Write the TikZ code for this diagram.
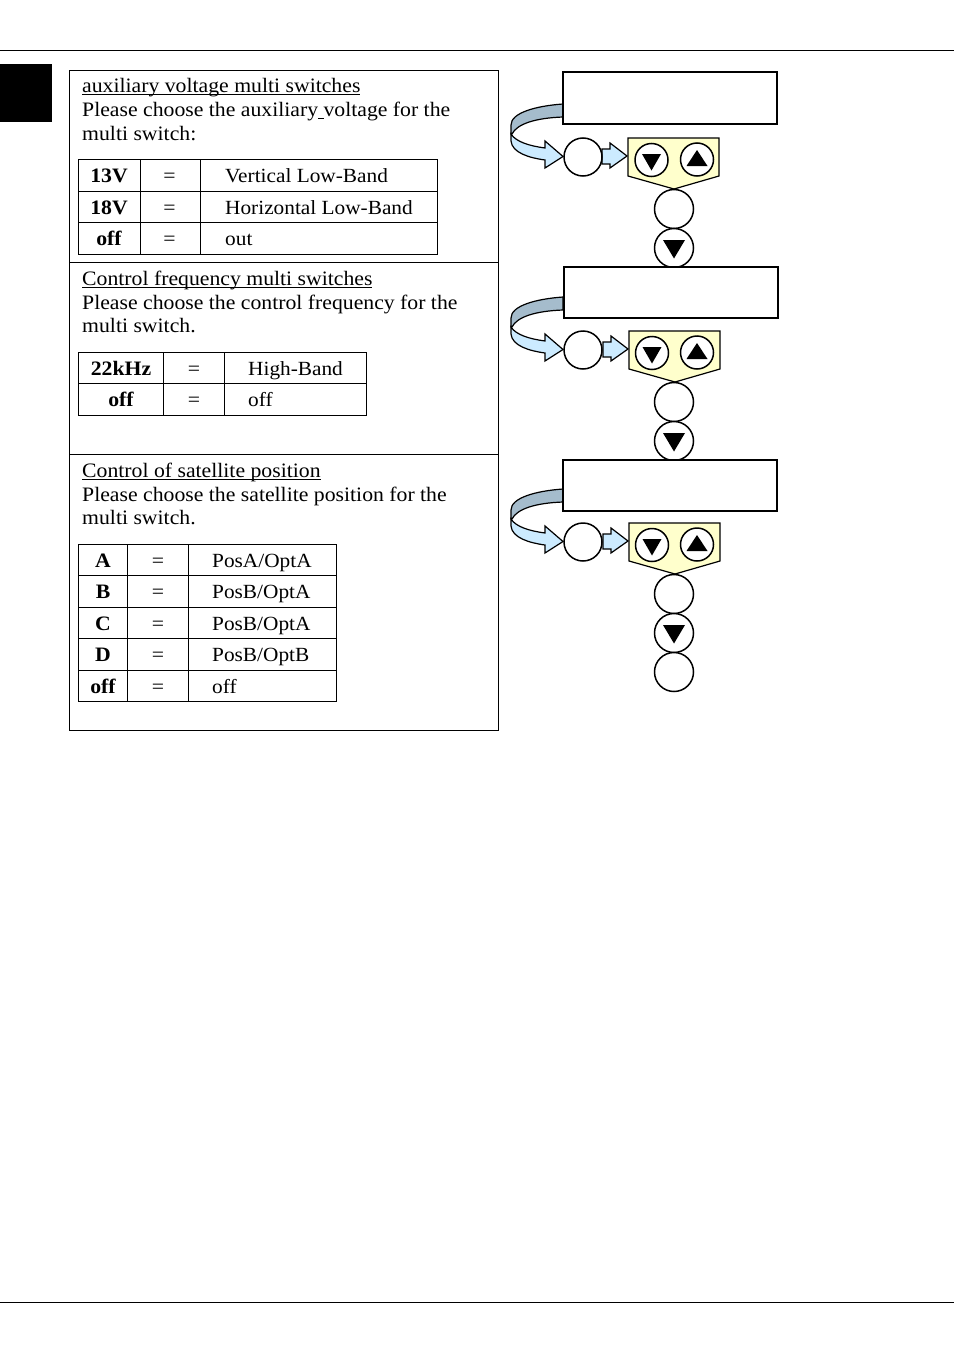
\documentclass[tikz,border=0pt]{standalone}
\usepackage{fontspec}
\setmainfont[FakeStretch=1.06]{Liberation Serif}
\definecolor{backband}{HTML}{A5BCCC}
\definecolor{frontband}{HTML}{CCEBFF}
\definecolor{keypad}{HTML}{FFFFCC}
\newlength\ulwidth
\newcommand{\ulin}[1]{\settowidth\ulwidth{#1}\rlap{\rule[-2.4pt]{\ulwidth}{0.9pt}}#1}
\tikzset{
  txt/.style={anchor=base west,inner sep=0pt,font=\fontsize{20.5}{24}\selectfont},
  txtb/.style={anchor=base west,inner sep=0pt,font=\fontsize{20.1}{24}\selectfont},
  cellb/.style={anchor=base,inner sep=0pt,font=\fontsize{20.5}{24}\selectfont\bfseries},
  cellc/.style={anchor=base,inner sep=0pt,font=\fontsize{20.5}{24}\selectfont},
  frame/.style={draw=black,line width=0.8pt},
  grid/.style={draw=black,line width=0.8pt},
  disp/.style={draw=black,line width=1.5pt,fill=white},
  btn/.style={draw=black,line width=1.5pt,fill=white},
  flow/.style={draw=black,line width=1.2pt,fill=frontband,line join=miter},
  tri/.style={fill=black},
}
% #1 x offset of keypad, #2 y offset of the control row, #3 display corners
\newcommand{\menuunit}[3]{%
  \begin{scope}[yshift=-#2pt]
    \filldraw[draw=black,line width=1.2pt,fill=backband]
      (563,104) .. controls (535,106) and (511,113) .. (511,125)
      -- (511,134) -- (512,134) .. controls (517,124) and (535,118) .. (563,117) -- cycle;
    \path[flow]
      (511,134) -- (511,141) .. controls (512,153) and (530,158) .. (545,160)
      -- (545,168) -- (563,156.5) -- (545,141) -- (545,148)
      .. controls (530,146) and (516,142) .. (511,134) -- cycle;
    \begin{scope}[xshift=#1pt]
      \path[flow] (602,149) -- (610,149) -- (610,143) -- (627,156) -- (610,168) -- (610,164) -- (602,164) -- cycle;
      \filldraw[draw=black,line width=1.2pt,fill=keypad]
        (628,138) -- (719,138) -- (719,176) -- (674,189) -- (628,176) -- cycle;
    \end{scope}
    \node[btn,circle,minimum size=38pt,inner sep=0pt] at (583,157) {};
    \node[btn,circle,minimum size=33pt,inner sep=0pt] at (#1*0.5+651.5,160) {};
    \fill[tri] (#1*0.5+642,154) -- (#1*0.5+661,154) -- (#1*0.5+651.5,170.5) -- cycle;
    \node[btn,circle,minimum size=33pt,inner sep=0pt] at (697,159.5) {};
    \fill[tri] (686.5,166) -- (707.5,166) -- (697,150) -- cycle;
    \node[btn,circle,minimum size=39pt,inner sep=0pt] at (674,209) {};
    \node[btn,circle,minimum size=39pt,inner sep=0pt] at (674,248) {};
    \fill[tri] (663,240) -- (685,240) -- (674,258.5) -- cycle;
  \end{scope}
  \path[disp] #3;
}
\begin{document}
\begin{tikzpicture}[x=1pt,y=-1pt]
\useasboundingbox (0,0) rectangle (954,1354);
\draw[line width=0.8pt] (0,50.5) -- (954,50.5);
\draw[line width=0.8pt] (0,1302.5) -- (954,1302.5);
\fill[black] (0,64) rectangle (52,122);
% outer frame
\draw[frame] (69.5,70.5) rectangle (498.5,730.5);
\draw[frame] (69.5,262.5) -- (498.5,262.5);
\draw[frame] (69.5,454.5) -- (498.5,454.5);
% section 1
\node[txt] (t1a) at (82,92.5) {\ulin{auxiliary voltage multi switches}};
\node[txt] (t1b) at (82,116.5) {Please choose the auxiliary\ulin{\ }voltage for the};
\node[txt] (t1c) at (82,140) {multi switch:};
\draw[grid] (78.5,159.5) rectangle (437.5,254.5);
\draw[grid] (78.5,191) -- (437.5,191) (78.5,222.5) -- (437.5,222.5);
\draw[grid] (140.5,159.5) -- (140.5,254.5) (200.5,159.5) -- (200.5,254.5);
\node[cellb] (a1) at (109,182) {13V};
\node[cellc] (a2) at (169.5,182) {=};
\node[txtb] (a3) at (225,182) {Vertical Low-Band};
\node[cellb] (b1) at (109,214) {18V};
\node[cellc] (b2) at (169.5,214) {=};
\node[txtb] (b3) at (225,214) {Horizontal Low-Band};
\node[cellb] (c1) at (109,245) {off};
\node[cellc] (c2) at (169.5,245) {=};
\node[txtb] (c3) at (225,245) {out};
% section 2
\node[txt] (t2a) at (82,285.5) {\ulin{Control frequency multi switches}};
\node[txt] (t2b) at (82,309) {Please choose the control frequency for the};
\node[txt] (t2c) at (82,332.5) {multi switch.};
\draw[grid] (78.5,352.5) rectangle (366.5,415.5);
\draw[grid] (78.5,383.5) -- (366.5,383.5);
\draw[grid] (163.5,352.5) -- (163.5,415.5) (224.5,352.5) -- (224.5,415.5);
\node[cellb] (d1) at (121,375) {22kHz};
\node[cellc] (d2) at (194,375) {=};
\node[txtb] (d3) at (248,375) {High-Band};
\node[cellb] (e1) at (121,406) {off};
\node[cellc] (e2) at (194,406) {=};
\node[txtb] (e3) at (248,406) {off};
% section 3
\node[txt] (t3a) at (82,477.5) {\ulin{Control of satellite position}};
\node[txt] (t3b) at (82,501) {Please choose the satellite position for the};
\node[txt] (t3c) at (82,524.5) {multi switch.};
\draw[grid] (78.5,544.5) rectangle (336.5,701.5);
\draw[grid] (78.5,575.5) -- (336.5,575.5) (78.5,607) -- (336.5,607) (78.5,638.5) -- (336.5,638.5) (78.5,670) -- (336.5,670);
\draw[grid] (127.5,544.5) -- (127.5,701.5) (188.5,544.5) -- (188.5,701.5);
\node[cellb] (f1) at (103,567) {A};
\node[cellc] (f2) at (158,567) {=};
\node[txtb] (f3) at (212,567) {PosA/OptA};
\node[cellb] (g1) at (103,598) {B};
\node[cellc] (g2) at (158,598) {=};
\node[txtb] (g3) at (212,598) {PosB/OptA};
\node[cellb] (h1) at (103,630) {C};
\node[cellc] (h2) at (158,630) {=};
\node[txtb] (h3) at (212,630) {PosB/OptA};
\node[cellb] (i1) at (103,661) {D};
\node[cellc] (i2) at (158,661) {=};
\node[txtb] (i3) at (212,661) {PosB/OptB};
\node[cellb] (j1) at (103,693) {off};
\node[cellc] (j2) at (158,693) {=};
\node[txtb] (j3) at (212,693) {off};
% right column
\menuunit{0}{0}{(563,72) rectangle (777,124)}
\menuunit{1}{193}{(564,267) rectangle (778,318)}
\menuunit{1}{385}{(563,460) rectangle (777,511)}
\node[btn,circle,minimum size=39pt,inner sep=0pt] (last) at (674,672) {};
\end{tikzpicture}
\end{document}
